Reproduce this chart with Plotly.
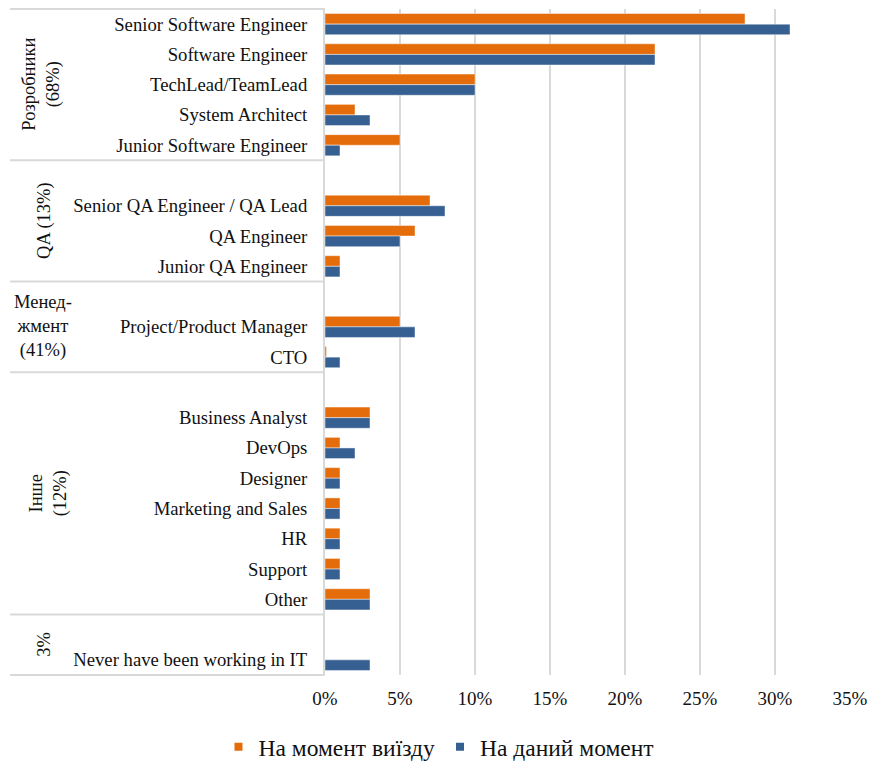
import plotly.graph_objects as go

roles = ["Senior Software Engineer", "Software Engineer", "TechLead/TeamLead",
         "System Architect", "Junior Software Engineer",
         "Senior QA Engineer / QA Lead", "QA Engineer", "Junior QA Engineer",
         "Project/Product Manager", "CTO",
         "Business Analyst", "DevOps", "Designer", "Marketing and Sales", "HR",
         "Support", "Other",
         "Never have been working in IT"]
at_departure = [28, 22, 10, 2, 5, 7, 6, 1, 5, 0.1, 3, 1, 1, 1, 1, 1, 3, 0]
current = [31, 22, 10, 3, 1, 8, 5, 1, 6, 1, 3, 2, 1, 1, 1, 1, 3, 3]
group_labels = ["Розробники<br>(68%)", "QA (13%)", "Менед-<br>жмент<br>(41%)",
                "Інше<br>(12%)", "3%"]
group_sizes = [5, 3, 2, 7, 1]
group_rotated = [True, True, False, True, True]
series_names = ["На момент виїзду", "На даний момент"]
x_ticks = [0, 5, 10, 15, 20, 25, 30, 35]

ORANGE = "#E46C0A"
BLUE = "#366092"
GRID = "#D9D9D9"
TXT = "#111111"
FONT = "Liberation Serif, Times New Roman, serif"

# build category list with blank spacer slots before each group (except first)
cats, v1, v2 = [], [], []
bounds = [-0.5]
k = 0
for gi, n in enumerate(group_sizes):
    if gi > 0:
        cats.append(" " * gi)
        v1.append(None)
        v2.append(None)
    for _ in range(n):
        cats.append(roles[k])
        v1.append(at_departure[k])
        v2.append(current[k])
        k += 1
    bounds.append(len(cats) - 0.5)

N = len(cats)
W, H = 871, 765
L, T, R, B = 325, 9, 21, 90
pw = W - L - R

fig = go.Figure()
fig.add_trace(go.Bar(y=cats, x=v1, name=series_names[0], orientation="h",
                     showlegend=False, legendgroup="a",
                     marker=dict(color=ORANGE, line=dict(color="rgba(255,255,255,0.45)", width=1))))
fig.add_trace(go.Bar(y=cats, x=v2, name=series_names[1], orientation="h",
                     showlegend=False, legendgroup="b",
                     marker=dict(color=BLUE, line=dict(color="rgba(255,255,255,0.45)", width=1))))
# legend entries with small square markers
for nm, col, grp in [(series_names[0], ORANGE, "a"), (series_names[1], BLUE, "b")]:
    fig.add_trace(go.Scatter(x=[None], y=[None], mode="markers", name=nm,
                             legendgroup=grp,
                             marker=dict(symbol="square", size=8, color=col)))


def ypaper(idx):
    return 1 - (idx + 0.5) / N


shapes = []
x0p = -(L - 10) / pw
for b in bounds:
    yp = ypaper(b)
    shapes.append(dict(type="line", xref="paper", yref="paper", x0=x0p, x1=0,
                       y0=yp, y1=yp, line=dict(color=GRID, width=2)))

label_x = [42, 45, 43, 48, 44]
annotations = []
for gi, lab in enumerate(group_labels):
    mid = (bounds[gi] + bounds[gi + 1]) / 2
    annotations.append(dict(text=lab, xref="paper", yref="paper",
                            x=-(L - label_x[gi]) / pw, y=ypaper(mid),
                            showarrow=False, textangle=-90 if group_rotated[gi] else 0,
                            font=dict(family=FONT, size=18.5, color=TXT),
                            xanchor="center", yanchor="middle"))

fig.update_layout(
    width=W, height=H,
    margin=dict(l=L, r=R, t=T, b=B, autoexpand=False),
    paper_bgcolor="white", plot_bgcolor="white",
    barmode="group", bargap=0.3, bargroupgap=0,
    font=dict(family=FONT, size=18.7, color=TXT),
    shapes=shapes, annotations=annotations,
    legend=dict(orientation="h", xref="container", x=439 / W, xanchor="center",
                yref="container", y=18 / H, yanchor="middle",
                font=dict(family=FONT, size=23.5, color=TXT),
                itemwidth=30, traceorder="normal"),
    showlegend=True,
)
fig.update_xaxes(range=[0, 35], tickvals=x_ticks, ticktext=[f"{t}%" for t in x_ticks],
                 showgrid=True, gridcolor=GRID, gridwidth=2, zeroline=False,
                 showline=False, ticklabelstandoff=10, automargin=False,
                 tickfont=dict(family=FONT, size=19, color=TXT))
fig.update_yaxes(categoryorder="array", categoryarray=cats, range=[N - 0.5, -0.5],
                 showgrid=False, zeroline=False, showline=True, linecolor=GRID,
                 linewidth=2, ticks="", ticklabelstandoff=12, automargin=False,
                 tickfont=dict(family=FONT, size=18.7, color=TXT))

fig.write_html("out.html", config={"displayModeBar": False},
               post_script="document.body.style.margin='0';document.body.style.overflow='hidden';")
